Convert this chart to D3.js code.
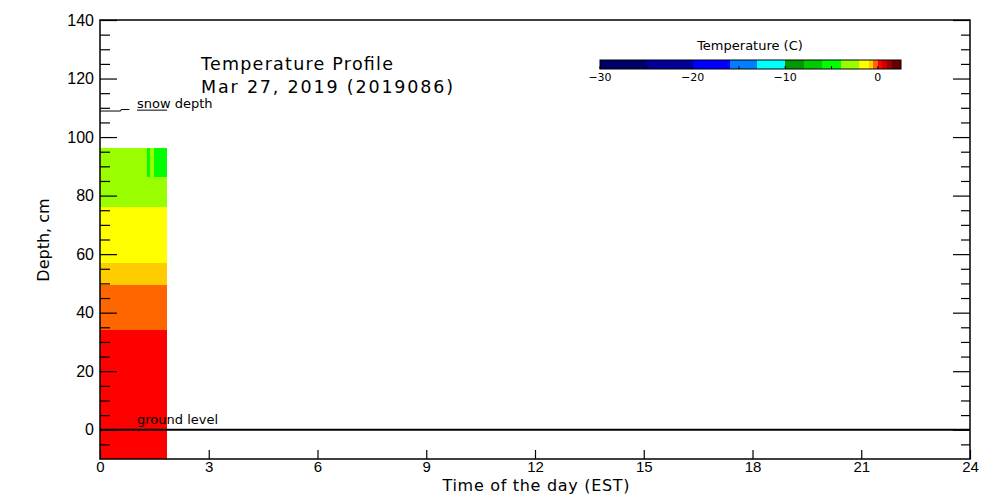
<!DOCTYPE html>
<html>
<head>
<meta charset="utf-8">
<script src="https://cdn.jsdelivr.net/npm/d3@7"></script>
<style>
  body { margin: 0; background: #fff; }
  svg { display: block; font-family: "DejaVu Sans", sans-serif; }
  text { fill: #000; }
</style>
</head>
<body>
<svg id="chart" width="1000" height="500"></svg>
<script>
// ---- data ----
const titleLines = ["Temperature Profile", "Mar 27, 2019 (2019086)"];
const legendTitle = "Temperature (C)";
const xLabel = "Time of the day (EST)";
const yLabel = "Depth, cm";

// time column edges (hours) and depth layer edges (cm)
const timeEdges = [0, 1.29, 1.38, 1.48, 1.85];
const depthEdges = [96.3, 86.2, 76.1, 57.0, 49.5, 34.1, -10];
// temperature (C) per time column, one value per depth layer (top -> bottom)
const col1Temps = [-3.0, -3.0, -1.5, -0.7, -0.2, 0.2];
const col2Temps = [-5.0, -3.0, -1.5, -0.7, -0.2, 0.2];
const col3Temps = [-3.0, -3.0, -1.5, -0.7, -0.2, 0.2];
const col4Temps = [-5.0, -3.0, -1.5, -0.7, -0.2, 0.2];
const columnTemps = [col1Temps, col2Temps, col3Temps, col4Temps];

// snow depth line (null = gap)
const snowTimes = [0, 0.57, 0.58, 0.81, 0.92, 1.02, 1.85];
const snowDepths = [108.9, 108.9, 109.4, 109.4, null, 109.2, 109.2];

// colour levels
const levelBounds = [-30, -25, -20, -16, -13, -10, -8, -6, -4, -2, -1, -0.5, 0, 0.5, 1, 1.5, 2.5];
const levelColors = ["#000066", "#000099", "#0000ff", "#0080ff", "#00ffff", "#009900", "#00cc00",
  "#00ff00", "#99ff00", "#ffff00", "#ffcc00", "#ff6600", "#ff0000", "#cc0000", "#990000", "#660000"];
const legendTicks = [-30, -20, -10, 0];
const legendTickLabels = ["\u221230", "\u221220", "\u221210", "0"];
const legendMinorTicks = [-25, -15, -5];

const xTicks = [0, 3, 6, 9, 12, 15, 18, 21, 24];
const yMajorTicks = [0, 20, 40, 60, 80, 100, 120, 140];
const yMinorTicks = [-5, 5, 10, 15, 25, 30, 35, 45, 50, 55, 65, 70, 75, 85, 90, 95, 105, 110, 115, 125, 130, 135];

// ---- layout ----
const svg = d3.select("#chart");
const L = 100, R = 970, T = 20, B = 459;
const x = d3.scaleLinear().domain([0, 24]).range([L, R]);
const y = d3.scaleLinear().domain([-10, 140]).range([B, T]);
const color = d3.scaleThreshold().domain(levelBounds.slice(1, -1)).range(levelColors);

// cells
const cells = [];
columnTemps.forEach((temps, ci) => {
  temps.forEach((t, li) => {
    cells.push({t0: timeEdges[ci], t1: timeEdges[ci + 1], d0: depthEdges[li], d1: depthEdges[li + 1], temp: t});
  });
});
svg.append("g").selectAll("rect").data(cells).join("rect")
  .attr("x", d => x(d.t0))
  .attr("width", d => x(d.t1) - x(d.t0))
  .attr("y", d => y(d.d0))
  .attr("height", d => y(d.d1) - y(d.d0))
  .attr("fill", d => color(d.temp))
  .attr("shape-rendering", "crispEdges");

// ground level
svg.append("line")
  .attr("x1", x(0)).attr("x2", x(24))
  .attr("y1", y(0)).attr("y2", y(0))
  .attr("stroke", "#000").attr("stroke-width", 2);
svg.append("text").attr("x", 137).attr("y", y(0) - 6)
  .attr("font-size", 13).text("ground level");

// snow depth
const snowData = snowTimes.map((t, i) => ({t, d: snowDepths[i]}));
svg.append("path")
  .datum(snowData)
  .attr("fill", "none").attr("stroke", "#000").attr("stroke-width", 1)
  .attr("d", d3.line().defined(d => d.d !== null).x(d => x(d.t)).y(d => y(d.d)));
svg.append("text").attr("x", 137).attr("y", y(109.2) - 2.5)
  .attr("font-size", 13).text("snow depth");

// axes
const axisG = svg.append("g").attr("font-family", "DejaVu Sans, sans-serif");
axisG.append("g").attr("transform", `translate(${L},0)`)
  .call(d3.axisLeft(y).tickValues(yMajorTicks).tickSize(-17).tickPadding(6).tickFormat(d3.format("d")));
axisG.append("g").attr("transform", `translate(${L},0)`)
  .call(d3.axisLeft(y).tickValues(yMinorTicks).tickSize(-10).tickFormat(""));
axisG.append("g").attr("transform", `translate(${R},0)`)
  .call(d3.axisRight(y).tickValues(yMajorTicks).tickSize(-17).tickFormat(""));
axisG.append("g").attr("transform", `translate(${R},0)`)
  .call(d3.axisRight(y).tickValues(yMinorTicks).tickSize(-9).tickFormat(""));
const bottomAxis = axisG.append("g").attr("transform", `translate(0,${B})`)
  .call(d3.axisBottom(x).tickValues(xTicks).tickSize(-9).tickPadding(2).tickFormat(d3.format("d")));
axisG.selectAll(".domain").remove();
axisG.selectAll(".tick line").attr("stroke", "#000").attr("stroke-width", 1.2);
axisG.selectAll(".tick text").attr("font-size", 16).attr("fill", "#000");
bottomAxis.selectAll(".tick text").attr("font-size", 15);

// frame
svg.append("rect").attr("x", L).attr("y", T).attr("width", R - L).attr("height", B - T)
  .attr("fill", "none").attr("stroke", "#000").attr("stroke-width", 1.5);

// axis labels
svg.append("text").attr("x", (L + R) / 2 + 1).attr("y", 491).attr("text-anchor", "middle")
  .attr("font-size", 16).attr("textLength", 187).attr("lengthAdjust", "spacing").text(xLabel);
svg.append("text").attr("transform", `translate(49,${240}) rotate(-90)`).attr("text-anchor", "middle")
  .attr("font-size", 16).text(yLabel);

// title
svg.append("text").attr("x", 201).attr("y", 70).attr("font-size", 17.5)
  .attr("textLength", 192).attr("lengthAdjust", "spacing").text(titleLines[0]);
svg.append("text").attr("x", 201).attr("y", 93).attr("font-size", 17.5)
  .attr("textLength", 252).attr("lengthAdjust", "spacing").text(titleLines[1]);

// colour legend
const cx = d3.scaleLinear().domain([levelBounds[0], levelBounds[levelBounds.length - 1]]).range([600, 901]);
const cbY = 60, cbH = 9;
const segs = levelColors.map((c, i) => ({a: levelBounds[i], b: levelBounds[i + 1], c}));
const lg = svg.append("g");
lg.selectAll("rect.seg").data(segs).join("rect").attr("class", "seg")
  .attr("x", d => cx(d.a)).attr("width", d => cx(d.b) - cx(d.a))
  .attr("y", cbY).attr("height", cbH).attr("fill", d => d.c)
  .attr("shape-rendering", "crispEdges");
lg.append("rect").attr("x", cx(levelBounds[0])).attr("y", cbY)
  .attr("width", cx(levelBounds[levelBounds.length - 1]) - cx(levelBounds[0])).attr("height", cbH)
  .attr("fill", "none").attr("stroke", "#000").attr("stroke-width", 1);
lg.selectAll("line.mt").data(legendTicks.concat(legendMinorTicks)).join("line").attr("class", "mt")
  .attr("x1", d => cx(d)).attr("x2", d => cx(d))
  .attr("y1", cbY + cbH).attr("y2", cbY + cbH - 3).attr("stroke", "#000");
lg.selectAll("text.tl").data(legendTicks).join("text").attr("class", "tl")
  .attr("x", d => cx(d)).attr("y", 81).attr("text-anchor", "middle")
  .attr("font-size", 11).text((d, i) => legendTickLabels[i]);
lg.append("text").attr("x", 750).attr("y", 50).attr("text-anchor", "middle")
  .attr("font-size", 13).text(legendTitle);
</script>
</body>
</html>
